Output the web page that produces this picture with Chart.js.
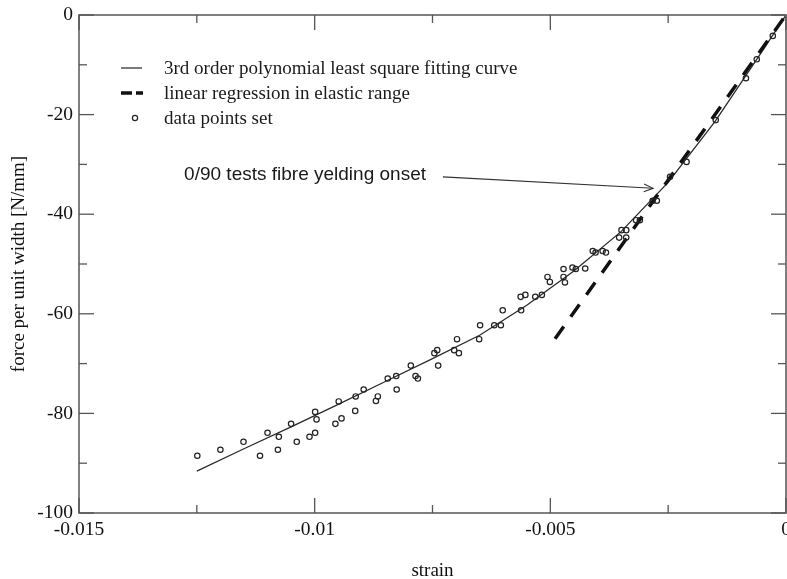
<!DOCTYPE html>
<html>
<head>
<meta charset="utf-8">
<script src="https://cdn.jsdelivr.net/npm/chart.js@4.4.1/dist/chart.umd.min.js"></script>
<style>
html, body { margin: 0; padding: 0; background: #fff; }
canvas { display: block; }
</style>
</head>
<body>
<canvas id="strain-chart" width="787" height="579"></canvas>
<script>
// measured points (strain, force per unit width)
var pointStrain = [-0.01249, -0.0120, -0.01151, -0.01116, -0.01100, -0.01078, -0.01076, -0.01050, -0.01038, -0.01011,
	-0.00999, -0.00999, -0.00996, -0.00956, -0.00949, -0.00943, -0.00914, -0.00913, -0.00896, -0.00870,
	-0.00866, -0.00845, -0.00827, -0.00826, -0.00796, -0.00786, -0.00781, -0.00746, -0.00740, -0.00738,
	-0.00704, -0.00698, -0.00694, -0.00651, -0.00649, -0.00619, -0.00605, -0.00601, -0.00562, -0.00563,
	-0.00553, -0.00532, -0.00518, -0.00506, -0.00501, -0.00472, -0.00472, -0.00469, -0.00453, -0.00446,
	-0.00426, -0.00410, -0.00404, -0.00389, -0.00382, -0.00354, -0.00339, -0.00349, -0.00339, -0.00318,
	-0.00310, -0.00283, -0.00274, -0.00246, -0.00211, -0.00149, -0.00085, -0.00062, -0.00028];
var pointForce = [-88.5, -87.3, -85.7, -88.5, -83.9, -87.3, -84.7, -82.1, -85.7, -84.7,
	-83.9, -79.7, -81.2, -82.1, -77.6, -81.0, -79.5, -76.6, -75.2, -77.5,
	-76.6, -73.0, -72.5, -75.2, -70.4, -72.5, -73.0, -67.9, -67.3, -70.4,
	-67.3, -65.1, -67.9, -65.1, -62.3, -62.3, -62.3, -59.3, -59.3, -56.6,
	-56.2, -56.6, -56.2, -52.6, -53.6, -51.0, -52.6, -53.7, -50.7, -51.0,
	-50.9, -47.4, -47.7, -47.4, -47.7, -44.7, -44.7, -43.2, -43.2, -41.2,
	-41.2, -37.3, -37.3, -32.5, -29.5, -21.1, -12.7, -8.9, -4.2];

// fitting curve
var fitStrain = [-0.0125, -0.0115, -0.0105, -0.0095, -0.0085, -0.0075, -0.0065, -0.0055, -0.0045, -0.0035, -0.0025, -0.0015, -0.0005, 0];
var fitForce = [-91.6, -87.1, -82.7, -78.2, -73.6, -69.0, -64.3, -58.3, -51.4, -43.5, -33.6, -21.3, -7.2, 0];

// elastic range regression
var linStrain = [-0.0049, 0];
var linForce = [-65, 0];

var xTicks = [-0.015, -0.01, -0.005, 0];
var xTickLabels = ['-0.015', '-0.01', '-0.005', '0'];
var xMinor = [-0.0125, -0.0075, -0.0025];
var yTicks = [-100, -80, -60, -40, -20, 0];
var yTickLabels = ['-100', '-80', '-60', '-40', '-20', '0'];
var yMinor = [-90, -70, -50, -30, -10];

var seriesLabels = ['3rd order polynomial least square fitting curve', 'linear regression in elastic range', 'data points set'];
var noteText = '0/90 tests fibre yelding onset';
var noteAt = {x: -0.01277, y: -33.1};
var arrowFrom = {x: -0.00728, y: -32.5};
var arrowTo = {x: -0.00282, y: -34.8};

function xy(xs, ys) {
	return xs.map(function (x, i) { return {x: x, y: ys[i]}; });
}

var serif = 'Liberation Serif, Times New Roman, serif';
var axisColor = '#555';

function seg(ctx, x1, y1, x2, y2) {
	ctx.beginPath();
	ctx.moveTo(x1, y1);
	ctx.lineTo(x2, y2);
	ctx.stroke();
}

var decorations = {
	id: 'decorations',
	// the plot runs right up to the canvas edge; the "0" label is allowed to be cut off
	afterLayout: function (chart) {
		var a = chart.chartArea, xs = chart.scales.x;
		var right = chart.width - 1;
		a.right = right;
		a.width = right - a.left;
		xs.right = right;
		xs.width = right - xs.left;
		xs.configure();
	},
	afterDraw: function (chart) {
		var ctx = chart.ctx, a = chart.chartArea;
		var xs = chart.scales.x, ys = chart.scales.y;
		ctx.save();
		// frame and inward ticks
		ctx.strokeStyle = axisColor;
		ctx.lineWidth = 1.5;
		ctx.strokeRect(a.left, a.top, a.right - a.left, a.bottom - a.top);
		ctx.lineWidth = 1.3;
		xTicks.concat(xMinor).forEach(function (v, i) {
			var len = i < xTicks.length ? 15 : 8;
			var px = xs.getPixelForValue(v);
			seg(ctx, px, a.bottom, px, a.bottom - len);
			seg(ctx, px, a.top, px, a.top + len);
		});
		yTicks.concat(yMinor).forEach(function (v, i) {
			var len = i < yTicks.length ? 15 : 8;
			var py = ys.getPixelForValue(v);
			seg(ctx, a.left, py, a.left + len, py);
			seg(ctx, a.right, py, a.right - len, py);
		});

		// legend
		ctx.fillStyle = '#1a1a1a';
		ctx.font = '19px ' + serif;
		ctx.textBaseline = 'alphabetic';
		ctx.textAlign = 'left';
		var rows = [68, 93, 118];
		ctx.strokeStyle = '#222';
		ctx.lineWidth = 1.2;
		seg(ctx, 121, rows[0], 142, rows[0]);
		ctx.lineWidth = 3.5;
		ctx.strokeStyle = '#111';
		ctx.setLineDash([11, 4]);
		seg(ctx, 121, rows[1], 143, rows[1]);
		ctx.setLineDash([]);
		ctx.lineWidth = 1.2;
		ctx.strokeStyle = '#222';
		ctx.beginPath();
		ctx.arc(135, rows[2], 2.6, 0, Math.PI * 2);
		ctx.stroke();
		seriesLabels.forEach(function (t, i) {
			ctx.fillText(t, 164, rows[i] + 6);
		});

		// annotation with arrow
		ctx.font = '19px Liberation Sans, Arial, sans-serif';
		ctx.fillStyle = '#1a1a1a';
		ctx.fillText(noteText, xs.getPixelForValue(noteAt.x), ys.getPixelForValue(noteAt.y));
		var x1 = xs.getPixelForValue(arrowFrom.x), y1 = ys.getPixelForValue(arrowFrom.y);
		var x2 = xs.getPixelForValue(arrowTo.x), y2 = ys.getPixelForValue(arrowTo.y);
		ctx.strokeStyle = '#333';
		ctx.lineWidth = 1.1;
		seg(ctx, x1, y1, x2, y2);
		var ang = Math.atan2(y2 - y1, x2 - x1);
		ctx.beginPath();
		ctx.moveTo(x2 - 10 * Math.cos(ang - 0.4), y2 - 10 * Math.sin(ang - 0.4));
		ctx.lineTo(x2, y2);
		ctx.lineTo(x2 - 10 * Math.cos(ang + 0.4), y2 - 10 * Math.sin(ang + 0.4));
		ctx.stroke();
		ctx.restore();
	}
};

var grafic = document.getElementById('strain-chart').getContext('2d');

var strainChart = new Chart(grafic, {
	type: 'scatter',
	data: {
		datasets: [
		{
			label: seriesLabels[2],
			data: xy(pointStrain, pointForce),
			pointRadius: 2.7,
			pointBorderWidth: 1.2,
			borderColor: '#222',
			backgroundColor: 'rgba(0,0,0,0)',
			order: 1
		},
		{
			label: seriesLabels[1],
			data: xy(linStrain, linForce),
			showLine: true,
			pointRadius: 0,
			borderColor: '#111',
			borderWidth: 3.5,
			borderDash: [15, 12],
			order: 2
		},
		{
			label: seriesLabels[0],
			data: xy(fitStrain, fitForce),
			showLine: true,
			pointRadius: 0,
			borderColor: '#2a2a2a',
			borderWidth: 1.3,
			order: 3
		}
		]
	},
	options: {
		responsive: false,
		animation: false,
		devicePixelRatio: 1,
		events: [],
		layout: { padding: { left: 0, right: 1, top: 15, bottom: 0 } },
		plugins: {
			legend: { display: false },
			tooltip: { enabled: false }
		},
		scales: {
			x: {
				type: 'linear',
				min: -0.015,
				max: 0,
				border: { display: false },
				grid: { display: false, drawTicks: false },
				afterBuildTicks: function (s) { s.ticks = xTicks.map(function (v) { return {value: v}; }); },
				afterFit: function (s) { s.height = 66; },
				ticks: {
					padding: 5,
					maxRotation: 0,
					autoSkip: false,
					color: '#111',
					font: { family: serif, size: 19.5 },
					callback: function (v, i) { return xTickLabels[i]; }
				},
				title: {
					display: true,
					text: 'strain',
					color: '#111',
					padding: { top: 0, bottom: 0 },
					font: { family: serif, size: 19, lineHeight: 0.79 }
				}
			},
			y: {
				type: 'linear',
				min: -100,
				max: 0,
				border: { display: false },
				grid: { display: false, drawTicks: false },
				afterBuildTicks: function (s) { s.ticks = yTicks.map(function (v) { return {value: v}; }); },
				afterFit: function (s) { s.width = 79; s.paddingTop = 0; s.paddingBottom = 0; },
				ticks: {
					padding: 6,
					autoSkip: false,
					color: '#111',
					font: { family: serif, size: 19.5 },
					callback: function (v, i) { return yTickLabels[i]; }
				},
				title: {
					display: true,
					text: 'force per unit width [N/mm]',
					color: '#111',
					padding: { top: 8, bottom: 0 },
					font: { family: serif, size: 19 }
				}
			}
		}
	},
	plugins: [decorations]
});
</script>
</body>
</html>
